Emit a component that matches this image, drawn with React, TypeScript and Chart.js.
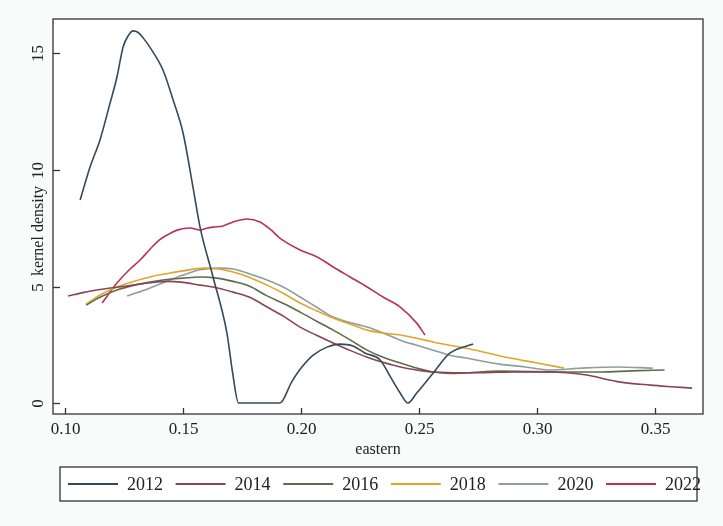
import React, { useEffect, useRef } from "react";
import { Chart, registerables } from "chart.js";

Chart.register(...registerables);

const seriesLabels = ["2012", "2014", "2016", "2018", "2020", "2022"];
const seriesColors = ["#34495a", "#8a4458", "#5e6c47", "#e2a52c", "#8d9e9e", "#b8325a"];

const x2012 = [0.1064,0.1106,0.1148,0.1191,0.1220,0.1246,0.1270,0.1288,0.1310,0.1331,0.1373,0.1415,0.1458,0.1500,0.1542,0.1572,0.1627,0.1686,0.1710,0.1735,0.1910,0.1960,0.2000,0.2050,0.2110,0.2165,0.2220,0.2270,0.2335,0.2380,0.2420,0.2453,0.2490,0.2560,0.2630,0.2729];
const y2012 = [8.71,10.13,11.29,12.88,13.99,15.28,15.80,15.97,15.90,15.67,15.06,14.29,13.00,11.59,9.27,7.55,5.41,3.00,1.30,0,0,0.90,1.50,2.05,2.40,2.53,2.45,2.15,1.85,1.10,0.43,0,0.43,1.29,2.14,2.53];

const x2014 = [0.1013,0.1080,0.1148,0.1220,0.1288,0.1360,0.1432,0.1500,0.1572,0.1627,0.1712,0.1780,0.1856,0.1930,0.1996,0.2068,0.2136,0.2210,0.2280,0.2350,0.2420,0.2490,0.2560,0.2700,0.2840,0.2990,0.3127,0.3210,0.3340,0.3480,0.3570,0.3657];
const y2014 = [4.59,4.75,4.87,4.97,5.06,5.16,5.22,5.18,5.06,4.98,4.76,4.55,4.12,3.70,3.26,2.90,2.58,2.25,1.97,1.74,1.55,1.42,1.33,1.30,1.32,1.35,1.30,1.20,0.92,0.77,0.70,0.64];

const x2016 = [0.1089,0.1150,0.1220,0.1290,0.1360,0.1430,0.1500,0.1572,0.1644,0.1712,0.1780,0.1856,0.1930,0.1996,0.2068,0.2136,0.2210,0.2280,0.2350,0.2420,0.2490,0.2560,0.2630,0.2700,0.2840,0.3055,0.3270,0.3400,0.3540];
const y2016 = [4.20,4.55,4.85,5.05,5.19,5.30,5.36,5.41,5.36,5.22,5.02,4.60,4.25,3.90,3.50,3.13,2.70,2.27,1.95,1.72,1.50,1.33,1.27,1.29,1.37,1.33,1.33,1.38,1.42];

const x2018 = [0.1089,0.1150,0.1220,0.1290,0.1360,0.1430,0.1500,0.1585,0.1650,0.1712,0.1780,0.1856,0.1930,0.1996,0.2068,0.2136,0.2210,0.2280,0.2350,0.2420,0.2490,0.2560,0.2630,0.2700,0.2790,0.2886,0.3000,0.3115];
const y2018 = [4.25,4.65,4.98,5.22,5.41,5.55,5.67,5.79,5.75,5.62,5.40,5.06,4.68,4.29,3.95,3.65,3.38,3.13,3.00,2.92,2.78,2.62,2.48,2.35,2.15,1.93,1.72,1.50];

const x2020 = [0.1263,0.1310,0.1360,0.1430,0.1500,0.1572,0.1644,0.1712,0.1780,0.1856,0.1930,0.1996,0.2068,0.2136,0.2210,0.2280,0.2350,0.2420,0.2490,0.2560,0.2630,0.2700,0.2840,0.2950,0.3055,0.3190,0.3340,0.3490];
const y2020 = [4.59,4.75,4.94,5.22,5.49,5.72,5.79,5.75,5.55,5.28,4.95,4.55,4.10,3.69,3.45,3.26,3.00,2.70,2.48,2.27,2.05,1.93,1.67,1.55,1.42,1.50,1.55,1.50];

const x2022 = [0.1157,0.1220,0.1270,0.1318,0.1360,0.1400,0.1440,0.1475,0.1530,0.1572,0.1600,0.1627,0.1670,0.1712,0.1770,0.1826,0.1870,0.1910,0.1996,0.2068,0.2136,0.2208,0.2280,0.2347,0.2420,0.2490,0.2525];
const y2022 = [4.29,5.15,5.70,6.14,6.60,7.00,7.25,7.42,7.51,7.42,7.50,7.55,7.60,7.77,7.90,7.77,7.45,7.08,6.57,6.27,5.84,5.41,4.98,4.55,4.12,3.43,2.92];

const xTicks = [0.1, 0.15, 0.2, 0.25, 0.3, 0.35];
const yTicks = [0, 5, 10, 15];
const xTitle = "eastern";
const yTitle = "kernel density";

const seriesX = [x2012, x2014, x2016, x2018, x2020, x2022];
const seriesY = [y2012, y2014, y2016, y2018, y2020, y2022];

const FONT = '"Liberation Serif", "Times New Roman", serif';

const framePlugin = {
  id: "frame",
  beforeDraw(chart: any) {
    const { ctx, chartArea: a, width, height } = chart;
    ctx.save();
    ctx.fillStyle = "#f9fafa";
    ctx.fillRect(0, 0, width, height);
    ctx.fillStyle = "#ffffff";
    ctx.fillRect(a.left, a.top, a.right - a.left, a.bottom - a.top);
    ctx.restore();
  },
  afterDraw(chart: any) {
    const { ctx, chartArea: a } = chart;
    const xs = chart.scales.x;
    const ys = chart.scales.y;
    ctx.save();
    ctx.strokeStyle = "#333333";
    ctx.lineWidth = 1.3;
    ctx.strokeRect(a.left, a.top, a.right - a.left, a.bottom - a.top);
    ctx.fillStyle = "#222222";
    // x ticks
    ctx.font = `17px ${FONT}`;
    ctx.textAlign = "center";
    ctx.textBaseline = "middle";
    xTicks.forEach((v) => {
      const px = Math.round(xs.getPixelForValue(v)) + 0.5;
      ctx.beginPath();
      ctx.moveTo(px, a.bottom);
      ctx.lineTo(px, a.bottom - 6);
      ctx.stroke();
      ctx.fillText(v.toFixed(2), px, a.bottom + 16);
    });
    // y ticks
    yTicks.forEach((v) => {
      const py = Math.round(ys.getPixelForValue(v)) + 0.5;
      ctx.beginPath();
      ctx.moveTo(a.left, py);
      ctx.lineTo(a.left + 7, py);
      ctx.stroke();
      ctx.save();
      ctx.translate(39, py);
      ctx.rotate(-Math.PI / 2);
      ctx.fillText(String(v), 0, 0);
      ctx.restore();
    });
    // axis titles
    ctx.font = `16px ${FONT}`;
    ctx.fillText(xTitle, (a.left + a.right) / 2, a.bottom + 36);
    ctx.save();
    ctx.translate(39, 231);
    ctx.rotate(-Math.PI / 2);
    ctx.font = `16px ${FONT}`;
    ctx.fillText(yTitle, 0, 0);
    ctx.restore();
    // legend
    const lx = 60, ly = 467, lw = 637, lh = 34;
    ctx.fillStyle = "#ffffff";
    ctx.fillRect(lx, ly, lw, lh);
    ctx.strokeStyle = "#333333";
    ctx.lineWidth = 1.3;
    ctx.strokeRect(lx, ly, lw, lh);
    ctx.font = `18px ${FONT}`;
    ctx.textAlign = "left";
    ctx.fillStyle = "#222222";
    chart.data.datasets.forEach((ds: any, i: number) => {
      const x0 = 68 + i * 107.6;
      const cy = ly + lh / 2;
      ctx.strokeStyle = ds.borderColor;
      ctx.lineWidth = 2;
      ctx.beginPath();
      ctx.moveTo(x0, cy);
      ctx.lineTo(x0 + 50, cy);
      ctx.stroke();
      ctx.fillText(ds.label, x0 + 59, cy + 1);
    });
    ctx.restore();
  },
};

export default function App() {
  const ref = useRef<HTMLCanvasElement | null>(null);
  useEffect(() => {
    if (!ref.current) return;
    const datasets = seriesLabels.map((label, i) => ({
      label,
      data: seriesX[i].map((x, j) => ({ x, y: seriesY[i][j] })),
      borderColor: seriesColors[i],
      backgroundColor: seriesColors[i],
      borderWidth: 1.6,
      pointRadius: 0,
      showLine: true,
      fill: false,
      cubicInterpolationMode: "monotone" as const,
    }));
    const chart = new Chart(ref.current, {
      type: "scatter",
      data: { datasets },
      options: {
        animation: false,
        responsive: false,
        maintainAspectRatio: false,
        layout: { padding: { left: 53, right: 20, top: 19, bottom: 112 } },
        plugins: { legend: { display: false }, tooltip: { enabled: false } },
        scales: {
          x: { type: "linear", min: 0.0949, max: 0.3703, display: false },
          y: { type: "linear", min: -0.47, max: 16.48, display: false },
        },
      },
      plugins: [framePlugin],
    });
    return () => chart.destroy();
  }, []);
  return (
    <div style={{ position: "absolute", left: 0, top: 0, width: 723, height: 526 }}>
      <canvas ref={ref} width={723} height={526} style={{ width: 723, height: 526 }} />
    </div>
  );
}
